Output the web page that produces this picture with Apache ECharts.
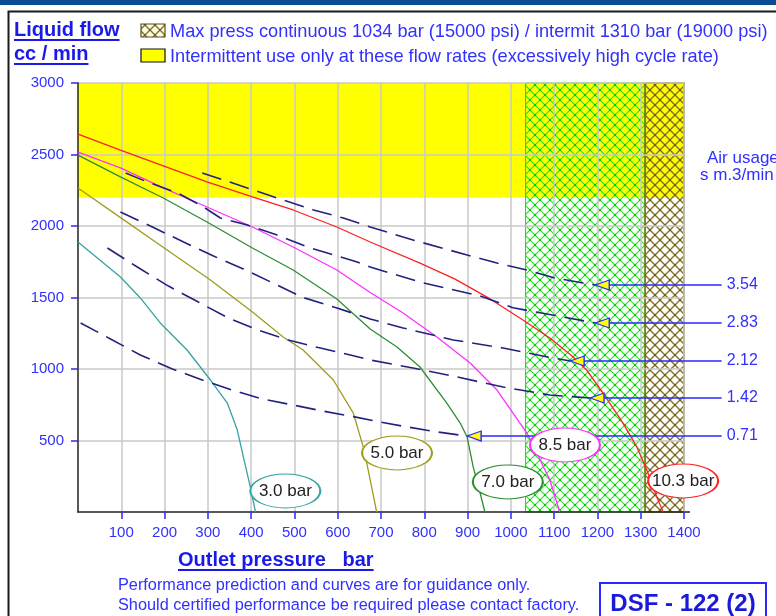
<!DOCTYPE html>
<html><head><meta charset="utf-8">
<script src="https://cdn.jsdelivr.net/npm/echarts@6/dist/echarts.min.js"></script>
<style>html,body{margin:0;padding:0;background:#fff;overflow:hidden}#c{width:776px;height:616px}</style>
</head><body><div id="c"></div>
<script>
// ---------- data ----------
const xTickValues = [100,200,300,400,500,600,700,800,900,1000,1100,1200,1300,1400];
const yTickValues = [500,1000,1500,2000,2500,3000];
const xMax = 1400, yMax = 3000;
const yellowLow = 2200;            // intermittent-use zone lower flow bound
const contLimit = 1034;            // bar, continuous max
const intermitLimit = 1310;        // bar, intermittent max

const curveNames = ['3.0 bar','5.0 bar','7.0 bar','8.5 bar','10.3 bar'];
const curve3_0 = [[0,1888],[98,1643],[144,1497],[190,1322],[252,1133],[306,923],[345,762],[368,573],[382,385],[398,175],[410,0]];
const curve5_0 = [[0,2266],[100,2055],[200,1845],[306,1622],[403,1399],[474,1224],[520,1133],[590,923],[636,692],[659,455],[670,300],[680,150],[690,0]];
const curve7_0 = [[0,2496],[98,2343],[197,2196],[298,2028],[403,1846],[497,1692],[598,1490],[675,1280],[737,1154],[790,1014],[852,762],[883,622],[899,524],[913,315],[929,133],[940,0]];
const curve8_5 = [[0,2517],[98,2406],[197,2266],[298,2133],[403,1993],[497,1853],[598,1692],[675,1535],[751,1392],[829,1224],[906,1042],[968,853],[1005,692],[1037,552],[1060,413],[1090,224],[1113,0]];
const curve10_3 = [[0,2643],[98,2531],[197,2420],[298,2308],[403,2203],[497,2112],[598,1993],[675,1888],[790,1741],[870,1630],[945,1503],[1028,1343],[1090,1217],[1144,1084],[1175,993],[1213,832],[1259,622],[1291,455],[1314,294],[1337,105],[1352,0]];
const bubbleAt = [[479,147],[737,413],[993,210],[1125,469],[1398,217]];

const airNames = ['3.54','2.83','2.12','1.42','0.71'];
const air3_54 = [[287,2371],[405,2252],[474,2182],[544,2112],[613,2056],[675,1993],[774,1902],[899,1797],[968,1741],[1037,1692],[1102,1636],[1195,1587]];
const air2_83 = [[110,2371],[160,2308],[230,2231],[290,2133],[329,2056],[391,2007],[460,1937],[530,1853],[576,1811],[645,1748],[675,1713],[790,1608],[929,1510],[1005,1428],[1083,1385],[1195,1322]];
const air2_12 = [[98,2098],[172,1993],[244,1888],[313,1790],[382,1700],[451,1600],[520,1500],[600,1425],[675,1350],[751,1287],[867,1203],[982,1147],[1097,1077],[1137,1056]];
const air1_42 = [[68,1846],[137,1713],[209,1580],[278,1468],[347,1357],[416,1273],[486,1203],[555,1150],[629,1098],[675,1063],[774,1007],[876,944],[982,874],[1090,818],[1183,797]];
const air0_71 = [[6,1322],[75,1210],[144,1098],[218,1000],[287,923],[356,853],[426,790],[497,748],[567,705],[636,667],[698,629],[751,600],[829,560],[899,531]];
const airLabelEndX = 1487;         // bar-scale position where the leader lines end

// ---------- helpers ----------
const FONT = "'Liberation Sans', Arial, sans-serif";
const BLUE = '#3030ff';
const HEAD = '#1a1ae8';
function hatch(color, w, dot) {
  const c = document.createElement('canvas'); c.width = 10; c.height = 10;
  const g = c.getContext('2d');
  g.strokeStyle = color; g.lineWidth = w;
  g.beginPath(); g.moveTo(0,0); g.lineTo(10,10); g.moveTo(10,0); g.lineTo(0,10); g.stroke();
  if (dot) { g.fillStyle = dot; g.fillRect(4,4,2,2); g.fillRect(0,0,1,1); g.fillRect(9,0,1,1); g.fillRect(0,9,1,1); g.fillRect(9,9,1,1); }
  return c;
}
const greenHatch = hatch('#1ee61e', 1.1, '#10c010');
const brownHatch = hatch('#857426', 1.4, '#6e5f1a');
const measure = (() => { const g = document.createElement('canvas').getContext('2d');
  return (t, f) => { g.font = f; return g.measureText(t).width; }; })();

const curveColors = ['#36a3a3','#a09c1e','#2e8e32','#ff30ff','#ff2020'];
const curves = [curve3_0, curve5_0, curve7_0, curve8_5, curve10_3];
const airs = [air3_54, air2_83, air2_12, air1_42, air0_71];

// grid geometry
const gLeft = 78, gTop = 83, gRight = 92, gBottom = 104;
const plotW = 776 - gLeft - gRight;
const gRight2 = gRight - (airLabelEndX - xMax) * plotW / xMax; // same scale, wider grid for leader lines

const series = [];
series.push({
  type: 'line', data: [[0,0]], showSymbol: false, symbol: 'none', z: 1, silent: true,
  lineStyle: { opacity: 0 },
  markArea: { silent: true, z: 1, data: [
    [{ coord: [0, yellowLow], itemStyle: { color: '#ffff00', opacity: 1, borderWidth: 0 } }, { coord: [xMax, yMax] }],
    [{ coord: [contLimit, 0], itemStyle: { color: { image: greenHatch, repeat: 'repeat' }, opacity: 1, borderColor: '#10dd10', borderWidth: 1 } }, { coord: [intermitLimit, yMax] }],
    [{ coord: [intermitLimit, 0], itemStyle: { color: { image: brownHatch, repeat: 'repeat' }, opacity: 1, borderColor: '#7a6a1a', borderWidth: 1.5 } }, { coord: [xMax, yMax] }]
  ] }
});
curves.forEach((d, i) => {
  series.push({
    type: 'line', data: d, symbol: 'none', z: 4, silent: true,
    lineStyle: { color: curveColors[i], width: 1.3 },
    markPoint: {
      z: 7, silent: true, symbol: 'circle', symbolSize: [70, 34],
      itemStyle: { color: '#fff', borderColor: curveColors[i], borderWidth: 1.5 },
      label: { show: true, formatter: curveNames[i], color: '#222', fontSize: 17, fontFamily: FONT },
      data: [{ coord: bubbleAt[i] }]
    }
  });
});
airs.forEach((d, i) => {
  series.push({
    type: 'line', data: d, symbol: 'none', z: 4, silent: true,
    lineStyle: { color: '#22227e', width: 1.6, type: [20, 9] }
  });
  const end = d[d.length - 1];
  series.push({
    type: 'line', z: 6, silent: true, xAxisIndex: 1, yAxisIndex: 1,
    lineStyle: { color: '#2a2aff', width: 1.5 },
    itemStyle: { color: '#ffff00', borderColor: '#2a2aff', borderWidth: 1.2 },
    data: [
      { value: [end[0], end[1]], symbol: 'triangle', symbolSize: [10, 14], symbolRotate: 90, symbolOffset: [7, 0] },
      { value: [airLabelEndX, end[1]], symbol: 'circle', symbolSize: 0,
        label: { show: true, position: 'right', distance: 5, formatter: airNames[i], color: BLUE, fontSize: 16, fontFamily: FONT } }
    ]
  });
});

const tFont = 'bold 20px ' + FONT;
const wLiq = measure('Liquid flow', tFont), wCc = measure('cc / min', tFont), wOut = measure('Outlet pressure   bar', tFont);
const gfx = [
  { type: 'rect', shape: { x: 0, y: 0, width: 776, height: 5 }, style: { fill: '#0a4d93' } },
  { type: 'polyline', shape: { points: [[8.5, 616], [8.5, 11.5], [776, 11.5]] }, style: { stroke: '#1a1a1a', lineWidth: 2, fill: null } },
  { type: 'text', x: 14, y: 30, style: { text: 'Liquid flow', font: tFont, fill: HEAD, verticalAlign: 'middle' } },
  { type: 'line', shape: { x1: 14, y1: 40, x2: 14 + wLiq, y2: 40 }, style: { stroke: HEAD, lineWidth: 2 } },
  { type: 'text', x: 14, y: 54, style: { text: 'cc / min', font: tFont, fill: HEAD, verticalAlign: 'middle' } },
  { type: 'line', shape: { x1: 14, y1: 64, x2: 14 + wCc, y2: 64 }, style: { stroke: HEAD, lineWidth: 2 } },
  { type: 'rect', shape: { x: 141, y: 24, width: 24, height: 13 }, style: { fill: '#fbfbe6', stroke: null } },
  { type: 'rect', shape: { x: 141, y: 24, width: 24, height: 13 }, style: { fill: { image: brownHatch, repeat: 'repeat' }, stroke: '#555020', lineWidth: 1.2 } },
  { type: 'text', x: 170, y: 32, style: { text: 'Max press continuous 1034 bar (15000 psi) / intermit 1310 bar (19000 psi)', font: '18.2px ' + FONT, fill: BLUE, verticalAlign: 'middle' } },
  { type: 'rect', shape: { x: 141, y: 49, width: 24, height: 13 }, style: { fill: '#ffff00', stroke: '#111', lineWidth: 1.2 } },
  { type: 'text', x: 170, y: 57, style: { text: 'Intermittent use only at these flow rates (excessively high cycle rate)', font: '18.2px ' + FONT, fill: BLUE, verticalAlign: 'middle' } },
  { type: 'text', x: 707, y: 158, style: { text: 'Air usage', font: '17px ' + FONT, fill: BLUE, verticalAlign: 'middle' } },
  { type: 'text', x: 700, y: 175, style: { text: 's m.3/min', font: '17px ' + FONT, fill: BLUE, verticalAlign: 'middle' } },
  { type: 'text', x: 178, y: 560, style: { text: 'Outlet pressure   bar', font: tFont, fill: HEAD, verticalAlign: 'middle' } },
  { type: 'line', shape: { x1: 178, y1: 570, x2: 178 + wOut, y2: 570 }, style: { stroke: HEAD, lineWidth: 2 } },
  { type: 'text', x: 118, y: 586, style: { text: 'Performance prediction and curves are for guidance only.', font: '16.3px ' + FONT, fill: BLUE, verticalAlign: 'middle' } },
  { type: 'text', x: 118, y: 606, style: { text: 'Should certified performance be required please contact factory.', font: '16.3px ' + FONT, fill: BLUE, verticalAlign: 'middle' } },
  { type: 'rect', shape: { x: 600, y: 583, width: 166, height: 45 }, style: { fill: '#fff', stroke: '#2a2aff', lineWidth: 2 } },
  { type: 'text', x: 683, y: 604, style: { text: 'DSF - 122 (2)', font: 'bold 24px ' + FONT, fill: '#1a1ad8', align: 'center', verticalAlign: 'middle' } },
  { type: 'line', shape: { x1: 684, y1: 512, x2: 690, y2: 512 }, style: { stroke: '#222', lineWidth: 1.5 } }
];

const plain = v => (v === 0 ? '' : String(v));
const chart = echarts.init(document.getElementById('c'), null, { renderer: 'canvas' });
chart.setOption({
  animation: false,
  backgroundColor: '#fff',
  grid: [
    { left: gLeft, top: gTop, right: gRight, bottom: gBottom, containLabel: false },
    { left: gLeft, top: gTop, right: gRight2, bottom: gBottom, containLabel: false }
  ],
  xAxis: [{
    type: 'value', min: 0, max: xMax, interval: 100, z: 2, gridIndex: 0,
    axisLine: { show: true, lineStyle: { color: '#222', width: 1.5 } },
    axisTick: { show: true, length: 7, customValues: xTickValues, lineStyle: { color: '#2a2aff', width: 1.5 } },
    axisLabel: { color: BLUE, fontSize: 15, fontFamily: FONT, margin: 13, customValues: xTickValues, formatter: plain },
    splitLine: { show: true, lineStyle: { color: '#c9c9c9', width: 1.5 } }
  }, {
    type: 'value', min: 0, max: airLabelEndX, gridIndex: 1, show: false
  }],
  yAxis: [{
    type: 'value', min: 0, max: yMax, interval: 500, z: 2, gridIndex: 0,
    axisLine: { show: true, lineStyle: { color: '#222', width: 1.5 } },
    axisTick: { show: true, length: 7, customValues: yTickValues, lineStyle: { color: '#2a2aff', width: 1.5 } },
    axisLabel: { color: BLUE, fontSize: 15, fontFamily: FONT, margin: 14, customValues: yTickValues, formatter: plain },
    splitLine: { show: true, lineStyle: { color: '#c9c9c9', width: 1.5 } }
  }, {
    type: 'value', min: 0, max: yMax, gridIndex: 1, show: false
  }],
  series: series,
  graphic: gfx
});
</script></body></html>
